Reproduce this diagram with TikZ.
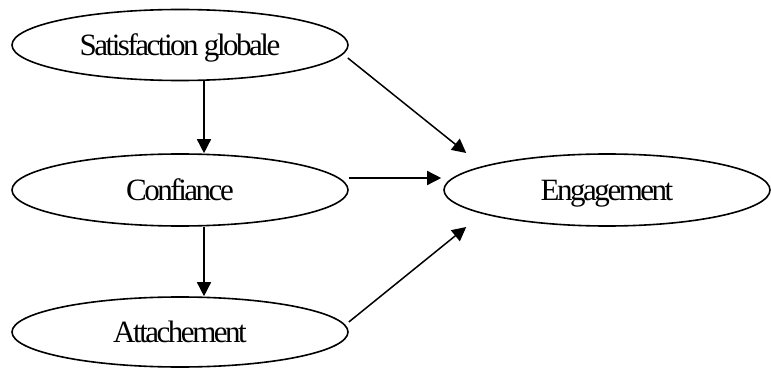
\documentclass[tikz,border=0pt]{standalone}
\usepackage{fontspec}
\setmainfont{Liberation Serif}[LetterSpace=-8]
\usetikzlibrary{shapes.geometric,arrows.meta,calc}
\begin{document}
\begin{tikzpicture}[x=1pt,y=1pt,
  oval/.style={ellipse,draw,line width=1.6pt,inner sep=0pt,
    font=\fontsize{31}{32}\selectfont,text height=20.5pt,text depth=0pt},
  arr/.style={line width=1.5pt,-{Triangle[length=14pt,width=14pt]}}]
\useasboundingbox (0,0) rectangle (771,370);
\node[oval,minimum width=336pt,minimum height=71pt] (sat) at (180,325) {Satisfaction globale};
\node[oval,minimum width=336pt,minimum height=72pt] (conf) at (180,180) {Confiance};
\node[oval,minimum width=336pt,minimum height=70pt] (att) at (180,38) {Attachement};
\node[oval,minimum width=326pt,minimum height=72pt] (eng) at (607,180) {Engagement};
\draw[arr] ($(sat.south)+(24,0)$) -- ($(conf.north)+(24,0)$);
\draw[arr] ($(conf.south)+(24,0)$) -- ($(att.north)+(24,0)$);
\draw[arr] ($(conf.east)+(0,12)$) -- ($(eng.west)+(-2,12)$);
\draw[arr] ($(sat.east)+(-1,-13)$) -- ($(eng.west)+(23,37)$);
\draw[arr] ($(att.east)+(0,10)$) -- ($(eng.west)+(23,-37)$);
\end{tikzpicture}
\end{document}
